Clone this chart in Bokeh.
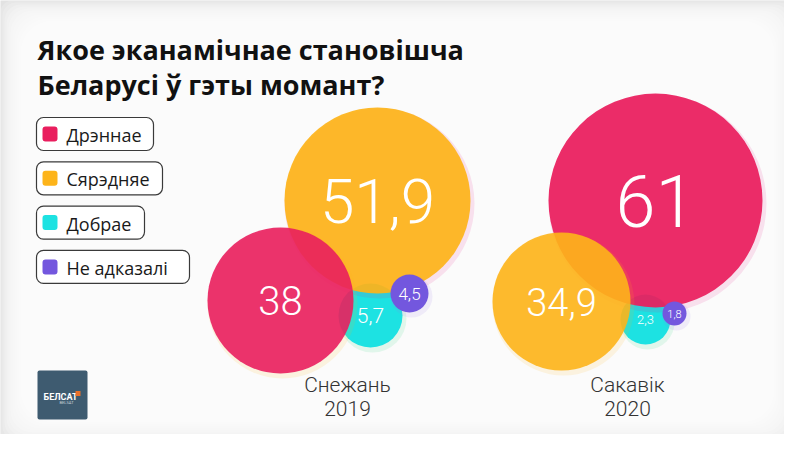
from bokeh.plotting import figure
from bokeh.core.properties import value
from bokeh.embed import file_html
from bokeh.resources import INLINE

# ---- data ----
title_lines = ["Якое эканамічнае становішча", "Беларусі ў гэты момант?"]
categories = ["Дрэннае", "Сярэдняе", "Добрае", "Не адказалі"]
periods = ["Снежань\n2019", "Сакавік\n2020"]
dec_2019 = [38, 51.9, 5.7, 4.5]
mar_2020 = [61, 34.9, 2.3, 1.8]
colors = ["#E91E5E", "#FDB41A", "#1DE2E2", "#7357DE"]

# ---- layout (pixels in page coordinates) ----
group_cx = [347, 627]
label_y = 384
centers = [
    [(280, 300), (377, 200), (370, 315), (409, 293)],
    [(655, 200), (561, 301), (645, 319), (674, 313)],
]
radii = [[73, 93, 32, 19], [107, 69, 25, 12]]
font_sizes = [[40, 62, 21, 17], [72, 38, 13, 11]]
orders = [[2, 1, 0, 3], [2, 0, 1, 3]]
alphas = [[1.0, 0.93, 0.9, 1.0], [1.0, 0.93, 0.9, 1.0]]
glow = [["#FDB41A", "#E91E8E", "#2BD47A", "#9A7BEA"],
        ["#E91E8E", "#FDB41A", "#2BD47A", "#9A7BEA"]]

W, H = 784, 434
p = figure(width=W, height=H, x_range=(0, W), y_range=(H, 0),
           output_backend="svg", toolbar_location=None, min_border=0)
p.axis.visible = False
p.grid.visible = False
p.outline_line_color = None
p.background_fill_color = "#e2e2e2"
p.border_fill_color = "#ffffff"

# vignette background
for k in range(14):
    d = k * 2.0
    p.quad(left=[d], right=[W - d + 10], top=[d], bottom=[H - d + 8],
           fill_color="white", fill_alpha=0.2, line_color=None,
           border_radius=int(12 + d))

# title
for i, line in enumerate(title_lines):
    p.text(x=[37], y=[49 + 35 * i], text=[line], text_font=value("Open Sans"),
           text_font_style="bold", text_font_size="27px", text_color="#111111",
           text_baseline="alphabetic", text_align="left")

# legend
for i, cat in enumerate(categories):
    yc = 133.5 + 44.3 * i
    right = 90 + 9 * len(cat)
    p.quad(left=[36], right=[right], top=[yc - 16.5], bottom=[yc + 16.5],
           fill_color="white", line_color="#3a3a3a", line_width=1.2,
           border_radius=7)
    p.quad(left=[42], right=[57], top=[yc - 7.5], bottom=[yc + 7.5],
           fill_color=colors[i], line_color=None, border_radius=3)
    p.text(x=[66], y=[yc + 1], text=[cat], text_font=value("Open Sans"),
           text_font_size="18px", text_color="#1a1a1a",
           text_baseline="middle", text_align="left")

# bubbles
datasets = [dec_2019, mar_2020]
for g, vals in enumerate(datasets):
    for j, ci in enumerate(orders[g]):
        cx, cy = centers[g][ci]
        r = radii[g][ci]
        p.circle(x=[cx + 2], y=[cy + 3], radius=r + 2, fill_color=glow[g][ci],
                 fill_alpha=0.12, line_color=None)
        p.circle(x=[cx], y=[cy], radius=r, fill_color=colors[ci],
                 fill_alpha=alphas[g][j], line_color=None)
    for ci in range(4):
        cx, cy = centers[g][ci]
        txt = f"{vals[ci]:g}".replace(".", ",")
        p.text(x=[cx], y=[cy], text=[txt],
               text_font=value("Roboto Light, Roboto"),
               text_font_size=f"{font_sizes[g][ci]}px", text_color="white",
               text_align="center", text_baseline="middle")
    for k, line in enumerate(periods[g].split("\n")):
        p.text(x=[group_cx[g]], y=[label_y + 24 * k], text=[line],
               text_font=value("Roboto Light, Roboto"), text_font_size="21px",
               text_color="#333333", text_align="center",
               text_baseline="alphabetic")

# logo
p.quad(left=[37], right=[87], top=[370], bottom=[419], fill_color="#3E5B70",
       line_color=None, border_radius=2)
p.text(x=[43], y=[396], text=["БЕЛСАТ"], text_font=value("Roboto"),
       text_font_style="bold", text_font_size="9px", text_color="white",
       text_align="left", text_baseline="alphabetic")
p.quad(left=[75], right=[80], top=[390.5], bottom=[395.5], fill_color="#E8702A",
       line_color=None)
p.text(x=[66], y=[401.5], text=["BELSAT"], text_font=value("Roboto"),
       text_font_size="4px", text_color="#c8d2da", text_align="center",
       text_baseline="alphabetic")

open("out.html", "w").write(file_html(p, INLINE))
